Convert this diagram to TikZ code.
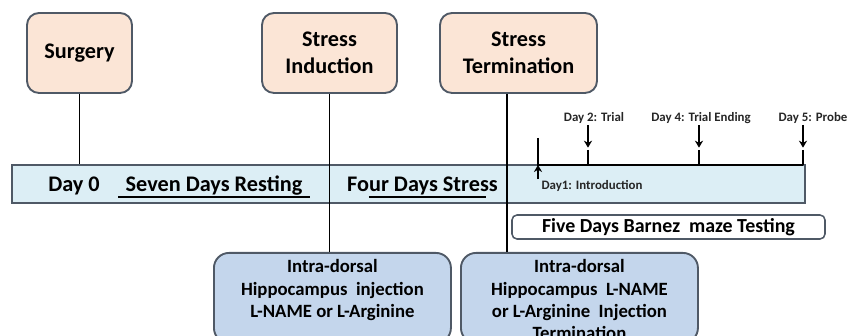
\documentclass[tikz,border=0pt]{standalone}
\usepackage{fontspec}
\setmainfont{Carlito}
\usetikzlibrary{arrows.meta}

\definecolor{peach}{HTML}{FBE5D6}
\definecolor{boxline}{HTML}{4F5966}
\definecolor{barfill}{HTML}{DCEEF5}
\definecolor{injfill}{HTML}{C4D6EC}

\begin{document}
\begin{tikzpicture}[
		eventbox/.style={draw=boxline, line width=1.6pt, fill=peach, rounded corners=0.36cm,
			minimum height=2.4cm, align=center, font=\fontsize{19}{23}\selectfont\bfseries},
		injbox/.style={draw=boxline, line width=1.6pt, fill=injfill, rounded corners=0.45cm,
			anchor=north west, inner xsep=0pt, inner ysep=0.2cm, font=\fontsize{16}{19}\selectfont\bfseries},
		bartext/.style={anchor=base, inner sep=0pt, font=\fontsize{19}{23}\selectfont\bfseries},
		daylabel/.style={inner sep=1pt, text=black!85, font=\fontsize{11}{13}\selectfont\bfseries},
		link/.style={line width=1.5pt},
		timeline/.style={line width=2.2pt},
		dayarrow/.style={line width=1.5pt, -{Stealth[length=6pt,width=7pt]}},
	]
	\useasboundingbox (0,0) rectangle (25.56,10.08);
	\clip (0,0) rectangle (25.56,10.08);

	% timeline bar
	\node [draw=boxline, line width=1.6pt, fill=barfill, minimum width=23.79cm, minimum height=1.14cm] at (12.255,4.56) (bar) {};
	\node [bartext] at (2.22,4.32) (day0) {Day 0};
	\node [bartext] at (6.42,4.32) (rest) {Seven Days Resting};
	\node [bartext] at (12.675,4.32) (stress) {Four Days Stress};
	\draw [line width=1.3pt] ([xshift=-0.21cm,yshift=-0.15cm]rest.base west) -- ([xshift=0.21cm,yshift=-0.15cm]rest.base east);
	\draw [line width=1.3pt] ([xshift=0.66cm,yshift=-0.15cm]stress.base west) -- ([xshift=-0.36cm,yshift=-0.15cm]stress.base east);

	% events
	\node [eventbox, minimum width=3.15cm] at (2.385,8.49) (surgery) {Surgery};
	\node [eventbox, minimum width=4.05cm] at (9.885,8.49) (induct) {Stress\\Induction};
	\node [eventbox, minimum width=4.71cm] at (15.555,8.49) (termin) {Stress\\Termination};

	\node [injbox] at (6.39,2.52) (injA) {\parbox[t][2.3cm][t]{7.11cm}{\centering
		Intra-dorsal\\Hippocampus\ \ injection\\L-NAME or L-Arginine}};
	\node [injbox] at (13.8,2.52) (injB) {\parbox[t][2.3cm][t]{7.11cm}{\centering
		Intra-dorsal\\Hippocampus\ \ L-NAME\\or L-Arginine\ \ Injection\\Termination}};

	\draw [link] (surgery.south) -- (surgery.south |- bar.north);
	\draw [link] (induct.south) -- (induct.south |- injA.north);
	\draw [link] ([xshift=-0.345cm]termin.south) -- ([xshift=-0.345cm]termin.south |- injB.north);

	% testing days
	\coordinate (t0top) at (16.14,5.94);
	\coordinate (t0) at (16.14,5.13);
	\coordinate (tend) at (24.09,5.13);
	\coordinate (k2) at (17.64,5.58);
	\coordinate (k4) at (20.97,5.58);
	\coordinate (k5) at (24.09,5.58);

	\draw [timeline] (t0top) -- (t0) -- (tend);
	\foreach \k in {k2,k4,k5}
		\draw [link] (\k) -- (\k |- t0);

	\node [daylabel] at (17.82,6.54) (d2) {Day 2: Trial};
	\node [daylabel] at (21.03,6.54) (d4) {Day 4: Trial Ending};
	\node [daylabel] at (24.39,6.54) (d5) {Day 5: Probe};
	\draw [dayarrow, shorten >=2pt] (d2.south -| k2) -- (k2);
	\draw [dayarrow, shorten >=2pt] (d4.south -| k4) -- (k4);
	\draw [dayarrow, shorten >=2pt] (d5.south -| k5) -- (k5);

	\node [daylabel, anchor=west, inner xsep=0.1cm] at (16.14,4.5) (d1) {Day1: Introduction};
	\draw [dayarrow] (d1.north west) -- (d1.north west |- t0);

	\node [draw=boxline, line width=1.3pt, rounded corners=0.15cm, minimum width=9.39cm, minimum height=0.72cm,
		inner sep=0pt, font=\fontsize{17}{20}\selectfont\bfseries] at (20.055,3.27) (maze) {Five Days Barnez\ \ maze Testing};
\end{tikzpicture}
\end{document}
